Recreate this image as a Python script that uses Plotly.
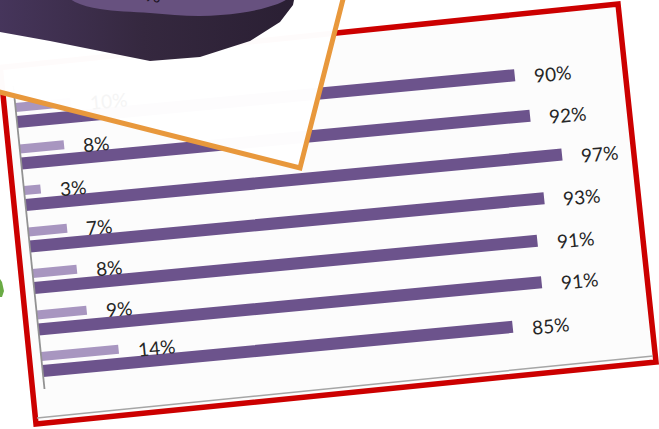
import plotly.graph_objects as go
import math

# ---- data -------------------------------------------------------------
categories = ["1", "2", "3", "4", "5", "6", "7"]
share_major = [90, 92, 97, 93, 91, 91, 85]
share_minor = [10, 8, 3, 7, 8, 9, 14]

# ---- page geometry (pixel space, y grows downward) --------------------
W, H = 659, 429
ORIGIN = (17.0, 122.0)   # value-axis point of the first major bar
E_U = (1.0, -0.094)      # direction along the bars
E_V = (0.103, 1.0)       # direction down the category axis
PX_PER_PCT = 5.53
ROW_STEP = 41.5
MINOR_SHIFT = -14.5
MAJOR_W, MINOR_W = 12.0, 9.0
LABEL_GAP = 16.0
TEXT_ANGLE = -math.degrees(math.atan(-E_U[1]))

MAJOR_COLOR = "#6c538c"
MINOR_COLOR = "#a896c0"
TEXT_COLOR = "#262626"

CARD = [(-60, 77), (300, 168), (353, -40), (-10, -130)]
FRAME = [(0.3, 67.6), (618, 4), (656, 362), (36, 424)]


def page(u, v):
    return (ORIGIN[0] + u * E_U[0] + v * E_V[0],
            ORIGIN[1] + u * E_U[1] + v * E_V[1])


def inside(pt, poly):
    x, y = pt
    hit = False
    n = len(poly)
    for i in range(n):
        x1, y1 = poly[i]
        x2, y2 = poly[(i + 1) % n]
        if (y1 > y) != (y2 > y):
            xc = x1 + (y - y1) * (x2 - x1) / (y2 - y1)
            if x < xc:
                hit = not hit
    return hit


def bar_polys(values, shift, width):
    xs, ys = [], []
    for i, val in enumerate(values):
        v = i * ROW_STEP + shift
        length = val * PX_PER_PCT
        for u, dv in [(0, -width / 2), (length, -width / 2), (length, width / 2),
                      (0, width / 2), (0, -width / 2)]:
            x, y = page(u, v + dv)
            xs.append(x)
            ys.append(y)
        xs.append(None)
        ys.append(None)
    return xs, ys


fig = go.Figure()

# bars
for values, shift, width, color, name in [
    (share_major, 0.0, MAJOR_W, MAJOR_COLOR, "major"),
    (share_minor, MINOR_SHIFT, MINOR_W, MINOR_COLOR, "minor"),
]:
    xs, ys = bar_polys(values, shift, width)
    fig.add_trace(go.Scatter(x=xs, y=ys, mode="none", fill="toself",
                             fillcolor=color, name=name, hoverinfo="skip"))

# category axis line
ax_top = page(0, -36)
ax_bot = page(0, (len(categories) - 1) * ROW_STEP + 18)
fig.add_trace(go.Scatter(x=[ax_top[0], ax_bot[0]], y=[ax_top[1], ax_bot[1]],
                         mode="lines", line=dict(color="#929292", width=1.8),
                         hoverinfo="skip"))

# overlapping card with the pie (barely see-through paper)
cx = [p[0] for p in CARD] + [CARD[0][0]]
cy = [p[1] for p in CARD] + [CARD[0][1]]
fig.add_trace(go.Scatter(x=cx, y=cy, mode="lines", fill="toself",
                         fillcolor="rgba(255,255,255,0.985)",
                         line=dict(color="#e8983c", width=5),
                         hoverinfo="skip"))

rim = [(-10, -10), (-10, 30), (0, 32), (50, 41), (100, 51), (150, 61),
       (200, 57), (250, 41), (280, 22), (293, 5), (296, -10)]
fig.add_trace(go.Scatter(x=[p[0] for p in rim], y=[p[1] for p in rim],
                         mode="none", fill="toself",
                         fillgradient=dict(type="horizontal",
                                           colorscale=[[0, "#47365d"],
                                                       [0.5, "#35283f"],
                                                       [1, "#2a1f33"]]),
                         hoverinfo="skip"))
top = [(60, -10), (75, 2), (100, 9), (150, 13), (200, 16), (240, 13),
       (268, 7), (287, -1), (292, -10)]
fig.add_trace(go.Scatter(x=[p[0] for p in top], y=[p[1] for p in top],
                         mode="none", fill="toself", fillcolor="#67517f",
                         line_shape="spline", hoverinfo="skip"))

# small green mark at the left edge
fig.add_trace(go.Scatter(x=[-2, 2, 4, 2, -2], y=[276, 282, 291, 297, 297],
                         mode="none", fill="toself", fillcolor="#6aab45",
                         hoverinfo="skip"))

# frame of the tilted sheet
path = "M " + " L ".join(f"{x},{y}" for x, y in FRAME) + " Z"
shadow_a = (FRAME[3][0] + 1, FRAME[3][1] - 6)
shadow_b = (FRAME[2][0] - 3, FRAME[2][1] - 6)
shapes = [
    dict(type="path", path=path, xref="x", yref="y", layer="below",
         fillcolor="#fcfcfc", line=dict(color="#cc0000", width=5.5)),
    dict(type="line", xref="x", yref="y", layer="below",
         x0=shadow_a[0], y0=shadow_a[1], x1=shadow_b[0], y1=shadow_b[1],
         line=dict(color="#a6a6a6", width=1.5)),
]

# value labels (a label under the card only shows through faintly)
annotations = []
for values, shift in [(share_major, 0.0), (share_minor, MINOR_SHIFT)]:
    for i, val in enumerate(values):
        pt = page(val * PX_PER_PCT + LABEL_GAP, i * ROW_STEP + shift)
        color = "#f5f5f5" if inside(pt, CARD) else TEXT_COLOR
        annotations.append(dict(x=pt[0], y=pt[1], xref="x", yref="y",
                                text=f"{val}%", showarrow=False,
                                xanchor="left", yanchor="middle",
                                textangle=TEXT_ANGLE,
                                font=dict(family="Lato", size=19,
                                          color=color)))
annotations.append(dict(x=148, y=9, xref="x", yref="y", text="3%",
                        showarrow=False, xanchor="center", yanchor="bottom",
                        textangle=8,
                        font=dict(family="Lato", size=19, color="#1c1424")))

fig.update_layout(
    width=W, height=H,
    margin=dict(l=0, r=0, t=0, b=0),
    paper_bgcolor="#ffffff", plot_bgcolor="#ffffff",
    showlegend=False,
    xaxis=dict(range=[0, W], visible=False, fixedrange=True),
    yaxis=dict(range=[H, 0], visible=False, fixedrange=True),
    shapes=shapes,
    annotations=annotations,
)

fig.write_html("out.html", config=dict(displayModeBar=False))
